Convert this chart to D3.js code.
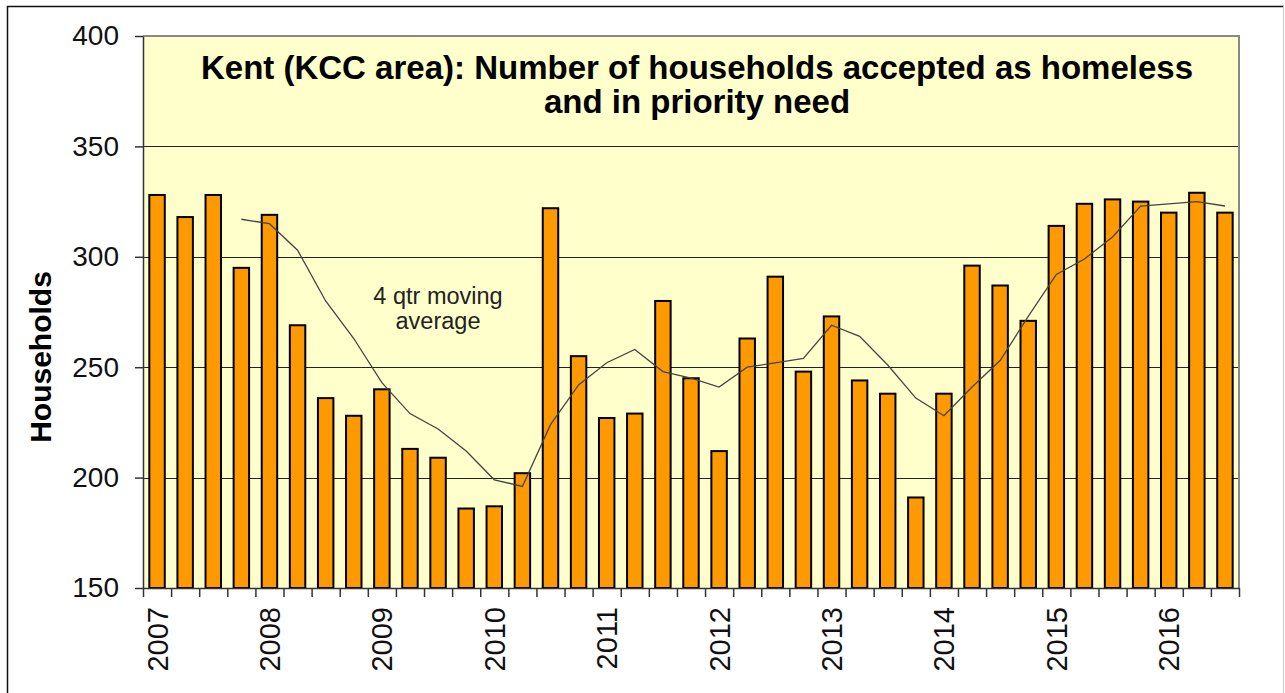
<!DOCTYPE html>
<html>
<head>
<meta charset="utf-8">
<script src="https://cdn.jsdelivr.net/npm/d3@7"></script>
<style>
  body { margin: 0; background: #fff; }
  svg { display: block; font-family: Arial, 'Liberation Sans', sans-serif; }
  .grid line { stroke: #222; stroke-width: 1.2; }
  .axis path, .axis line { stroke: #333; stroke-width: 1.5; }
  .axis text { font-size: 28px; fill: #111; }
</style>
</head>
<body>
<svg id="chart" width="1285" height="693"></svg>
<script>
// quarters, Q1 2007 to Q3 2016
var quarters = ['2007 Q1','2007 Q2','2007 Q3','2007 Q4',
                '2008 Q1','2008 Q2','2008 Q3','2008 Q4',
                '2009 Q1','2009 Q2','2009 Q3','2009 Q4',
                '2010 Q1','2010 Q2','2010 Q3','2010 Q4',
                '2011 Q1','2011 Q2','2011 Q3','2011 Q4',
                '2012 Q1','2012 Q2','2012 Q3','2012 Q4',
                '2013 Q1','2013 Q2','2013 Q3','2013 Q4',
                '2014 Q1','2014 Q2','2014 Q3','2014 Q4',
                '2015 Q1','2015 Q2','2015 Q3','2015 Q4',
                '2016 Q1','2016 Q2','2016 Q3'];

// households accepted per quarter
var households = [328, 318, 328, 295,
                  319, 269, 236, 228,
                  240, 213, 209, 186,
                  187, 202, 322, 255,
                  227, 229, 280, 245,
                  212, 263, 291, 248,
                  273, 244, 238, 191,
                  238, 296, 287, 271,
                  314, 324, 326, 325,
                  320, 329, 320];

// 4 qtr moving average (no value for first 3 quarters)
var movingAvg = [null, null, null, 317,
                 315, 303, 280, 263,
                 243, 229, 222, 212,
                 199, 196, 224, 242,
                 252, 258, 248, 245,
                 241, 250, 252, 254,
                 269, 264, 251, 236,
                 228, 241, 253, 273,
                 292, 299, 309, 323,
                 324, 325, 323];

var yTicks = [150, 200, 250, 300, 350, 400];
var yearLabels = ['2007','2008','2009','2010','2011','2012','2013','2014','2015','2016'];

var titleLines = ['Kent (KCC area): Number of households accepted as homeless',
                  'and in priority need'];

var svg = d3.select('#chart');

var plotLeft = 143, plotRight = 1239, plotTop = 36, plotBottom = 588;

//outer frame
svg.append('line').attr('x1', 7).attr('x2', 1284).attr('y1', 6.5).attr('y2', 6.5)
   .style('stroke', '#111').style('stroke-width', 1.5);
svg.append('line').attr('x1', 7.5).attr('x2', 7.5).attr('y1', 6).attr('y2', 693)
   .style('stroke', '#111').style('stroke-width', 1.5);
svg.append('line').attr('x1', 1283.5).attr('x2', 1283.5).attr('y1', 6).attr('y2', 693)
   .style('stroke', '#ccc').style('stroke-width', 1);

var x = d3.scaleBand()
    .domain(quarters)
    .range([plotLeft, plotRight])
    .paddingInner(0.45)
    .paddingOuter(0.225);

var xEdge = d3.scaleLinear()
    .domain([0, quarters.length])
    .range([plotLeft, plotRight]);

var y = d3.scaleLinear()
    .domain([150, 400])
    .range([plotBottom, plotTop]);

//plot background
svg.append('rect')
   .attr('x', plotLeft).attr('y', plotTop)
   .attr('width', plotRight - plotLeft).attr('height', plotBottom - plotTop)
   .style('fill', '#ffffcc');

//grid lines
svg.append('g').attr('class', 'grid')
   .selectAll('line')
   .data(yTicks.filter(function(t){ return t > 150 && t < 400; }))
   .enter().append('line')
   .attr('x1', plotLeft).attr('x2', plotRight)
   .attr('y1', function(d){ return Math.round(y(d)) + 0.5; })
   .attr('y2', function(d){ return Math.round(y(d)) + 0.5; });

//top and right border of plot area
svg.append('polyline')
   .attr('points', plotLeft + ',' + plotTop + ' ' + plotRight + ',' + plotTop + ' ' + plotRight + ',' + plotBottom)
   .style('fill', 'none').style('stroke', '#888').style('stroke-width', 2);

//bars
svg.append('g').selectAll('rect')
   .data(households)
   .enter().append('rect')
   .attr('x', function(d, i){ return x(quarters[i]); })
   .attr('width', x.bandwidth())
   .attr('y', function(d){ return y(d); })
   .attr('height', function(d){ return plotBottom - y(d); })
   .style('fill', '#ff9900')
   .style('stroke', '#000')
   .style('stroke-width', 2);

//moving average line
var line = d3.line()
    .defined(function(d){ return d != null; })
    .x(function(d, i){ return x(quarters[i]) + x.bandwidth() / 2; })
    .y(function(d){ return y(d); });

svg.append('path')
   .datum(movingAvg)
   .attr('d', line)
   .style('fill', 'none')
   .style('stroke', '#444')
   .style('stroke-width', 1.3);

//y axis
svg.append('g').attr('class', 'axis')
   .attr('transform', 'translate(' + plotLeft + ',0)')
   .call(d3.axisLeft(y).tickValues(yTicks).tickSize(8).tickPadding(16).tickSizeOuter(0));

//x axis with ticks at category edges
svg.append('g').attr('class', 'axis')
   .attr('transform', 'translate(0,' + plotBottom + ')')
   .call(d3.axisBottom(xEdge).tickValues(d3.range(quarters.length + 1))
         .tickSize(9).tickSizeOuter(0).tickFormat(''));

//year labels, one per Q1
svg.append('g').selectAll('text')
   .data(yearLabels)
   .enter().append('text')
   .attr('transform', function(d){
       var cx = x(d + ' Q1') + x.bandwidth() / 2;
       return 'translate(' + cx + ',607) rotate(-90)';
   })
   .attr('dy', '0.36em')
   .style('text-anchor', 'end')
   .style('font-size', '29px')
   .style('fill', '#111')
   .text(function(d){ return d; });

//y axis title
svg.append('text')
   .attr('transform', 'translate(40,357) rotate(-90)')
   .attr('dy', '0.36em')
   .style('text-anchor', 'middle')
   .style('font-size', '30px')
   .style('font-weight', 'bold')
   .style('fill', '#000')
   .text('Households');

//chart title
svg.append('g').selectAll('text')
   .data(titleLines)
   .enter().append('text')
   .attr('x', 697)
   .attr('y', function(d, i){ return 79 + i * 34; })
   .style('text-anchor', 'middle')
   .style('font-size', '33px')
   .style('font-weight', 'bold')
   .style('fill', '#000')
   .text(function(d){ return d; });

//moving average note
svg.append('text')
   .attr('x', 438).attr('y', 304)
   .style('text-anchor', 'middle')
   .style('font-size', '23.5px')
   .style('fill', '#222')
   .text('4 qtr moving');
svg.append('text')
   .attr('x', 438).attr('y', 329)
   .style('text-anchor', 'middle')
   .style('font-size', '23.5px')
   .style('fill', '#222')
   .text('average');
</script>
</body>
</html>
